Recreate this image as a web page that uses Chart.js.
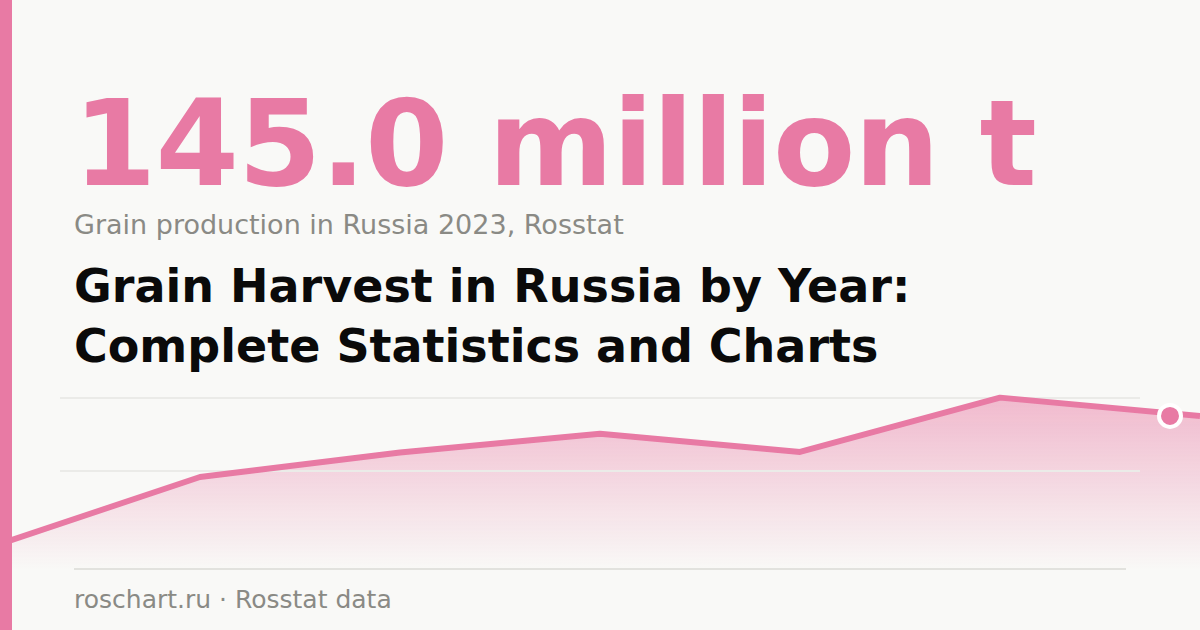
<!DOCTYPE html>
<html>
<head>
<meta charset="utf-8">
<script src="https://cdn.jsdelivr.net/npm/chart.js@4.4.1/dist/chart.umd.min.js"></script>
<style>
  html, body { margin: 0; padding: 0; }
  body {
    width: 1200px; height: 630px; overflow: hidden; position: relative;
    background: #f9f9f7; font-family: "DejaVu Sans", sans-serif;
  }
  .bar { position: absolute; left: 0; top: 0; width: 12px; height: 630px; background: #e87aa4; z-index: 5; }
  .big {
    position: absolute; left: 73px; top: 69px; margin: 0;
    font-size: 120px; font-weight: bold; line-height: 150px; letter-spacing: -1px;
    color: #e87aa4; white-space: nowrap;
  }
  .sub {
    position: absolute; left: 74px; top: 207px; margin: 0;
    font-size: 27px; line-height: 36px; color: #8a8a85; white-space: nowrap;
  }
  .title {
    position: absolute; left: 74px; top: 256px; margin: 0;
    font-size: 46px; font-weight: bold; line-height: 60px; color: #0a0a0a;
  }
  .rule { position: absolute; left: 74px; top: 568px; width: 1052px; height: 2px; background: #e2e2de; }
  .foot {
    position: absolute; left: 74px; top: 584px; margin: 0;
    font-size: 25px; line-height: 32px; color: #8a8a85; white-space: nowrap;
  }
  #wrap { position: absolute; left: 0; top: 390px; width: 1200px; height: 180px; }
</style>
</head>
<body>
<div class="bar"></div>
<div class="big">145.0 million t</div>
<div class="sub">Grain production in Russia 2023, Rosstat</div>
<div class="title">Grain Harvest in Russia by Year:<br>Complete Statistics and Charts</div>
<div id="wrap"><canvas id="chart"></canvas></div>
<div class="rule"></div>
<div class="foot">roschart.ru · Rosstat data</div>

<script>
// Sparkline values, million tonnes
const years = ['2017', '2018', '2019', '2020', '2021', '2022', '2023'];
const harvest = [56.1, 102.6, 119.6, 132.6, 120.0, 157.7, 145.0];
// faint guide lines, in value units
const guides = [157.5, 106.8];

const pink = '#e87aa4';

// Guide lines go between the fill and the line
const guidePlugin = {
    id: 'guides',
    beforeDatasetsDraw: function(chart) {
        const ctx = chart.ctx;
        const y = chart.scales.y;
        const area = chart.chartArea;
        ctx.save();
        ctx.strokeStyle = '#ebebe8';
        ctx.lineWidth = 2;
        guides.forEach(function(v) {
            const py = Math.round(y.getPixelForValue(v));
            ctx.beginPath();
            ctx.moveTo(area.left + 60, py);
            ctx.lineTo(area.right - 60, py);
            ctx.stroke();
        });
        ctx.restore();
    }
};

// Marker for the latest year, set a little in from the right edge
const lastDotPlugin = {
    id: 'lastDot',
    afterDatasetsDraw: function(chart) {
        const meta = chart.getDatasetMeta(0);
        const last = meta.data[meta.data.length - 1];
        const ctx = chart.ctx;
        ctx.save();
        ctx.beginPath();
        ctx.arc(chart.chartArea.right - 30, last.y, 11, 0, Math.PI * 2);
        ctx.fillStyle = pink;
        ctx.fill();
        ctx.lineWidth = 4;
        ctx.strokeStyle = '#ffffff';
        ctx.stroke();
        ctx.restore();
    }
};

const ctx = document.getElementById('chart');
new Chart(ctx, {
    type: 'line',
    data: {
        labels: years,
        datasets: [{
            data: harvest,
            borderColor: pink,
            borderWidth: 6,
            borderJoinStyle: 'round',
            tension: 0,
            pointRadius: 0,
            fill: 'start',
            backgroundColor: function(c) {
                const area = c.chart.chartArea;
                if (!area) return 'rgba(232,122,164,0.3)';
                const g = c.chart.ctx.createLinearGradient(0, area.top, 0, area.bottom);
                g.addColorStop(0, 'rgba(232,122,164,0.52)');
                g.addColorStop(1, 'rgba(232,122,164,0)');
                return g;
            }
        }]
    },
    options: {
        responsive: true,
        maintainAspectRatio: false,
        animation: false,
        layout: { padding: 0 },
        plugins: {
            legend: { display: false },
            tooltip: { enabled: false },
            filler: { drawTime: 'beforeDatasetsDraw' }
        },
        scales: {
            x: { display: false, offset: false },
            y: { display: false, min: 38, max: 163 }
        }
    },
    plugins: [guidePlugin, lastDotPlugin]
});
</script>
</body>
</html>
